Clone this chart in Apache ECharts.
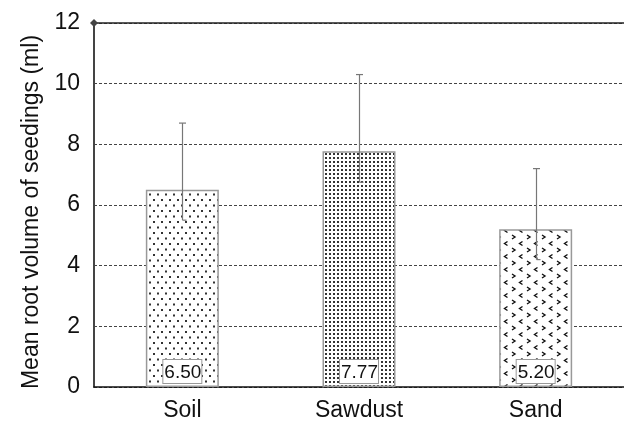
<!DOCTYPE html>
<html>
<head>
<meta charset="utf-8">
<script src="https://cdn.jsdelivr.net/npm/echarts@6/dist/echarts.min.js"></script>
<style>
  html, body { margin: 0; padding: 0; background: #fff; }
  #chart { width: 624px; height: 422px; }
</style>
</head>
<body>
<div id="chart"></div>
<script>
// Root volume per growing medium
const categories = ['Soil', 'Sawdust', 'Sand'];
const meanVolume = [6.50, 7.77, 5.20];
const errorHigh = [8.7, 10.3, 7.2];
const errorLow = [5.5, 6.75, 4.2];
const yTicks = [0, 2, 4, 6, 8, 10, 12];

// Fill textures for the three media
function tile(w, h, draw) {
  const c = document.createElement('canvas');
  c.width = w; c.height = h;
  const ctx = c.getContext('2d');
  ctx.fillStyle = '#fff';
  ctx.fillRect(0, 0, w, h);
  draw(ctx);
  return c;
}
const sparseDots = tile(8, 11, ctx => {
  ctx.fillStyle = '#333';
  ctx.fillRect(1, 1, 2, 2);
  ctx.fillRect(5, 6.5, 2, 2);
});
const denseDots = tile(4, 4, ctx => {
  ctx.fillStyle = '#333';
  ctx.fillRect(1, 1, 2, 2);
});
const chevrons = tile(15, 13, ctx => {
  ctx.strokeStyle = '#111';
  ctx.lineWidth = 1.4;
  ctx.beginPath();
  // '>'
  ctx.moveTo(2, 1); ctx.lineTo(5, 3); ctx.lineTo(2, 5);
  // '<'
  ctx.moveTo(12.5, 7.5); ctx.lineTo(9.5, 9.5); ctx.lineTo(12.5, 11.5);
  ctx.stroke();
});
const fills = [sparseDots, denseDots, chevrons];

const chart = echarts.init(document.getElementById('chart'), null, { renderer: 'canvas' });

chart.setOption({
  animation: false,
  textStyle: { fontFamily: 'Liberation Sans, Arial, sans-serif' },
  grid: { left: 94, top: 23, width: 537, height: 364 },
  xAxis: [{
    type: 'category',
    data: categories,
    axisLine: { lineStyle: { color: '#111', width: 1.5 } },
    axisTick: { show: false },
    axisLabel: { fontSize: 23, color: '#111', margin: 12 }
  }, {
    type: 'category',
    position: 'top',
    data: categories,
    axisLine: { show: true, lineStyle: { color: '#222', width: 1.5 } },
    axisTick: { show: false },
    axisLabel: { show: false }
  }],
  yAxis: {
    type: 'value',
    min: yTicks[0],
    max: yTicks[yTicks.length - 1],
    interval: 2,
    name: 'Mean root volume of seedings (ml)',
    nameLocation: 'middle',
    nameGap: 50,
    nameTextStyle: { fontSize: 23, color: '#111', padding: [0, 14, 0, 0] },
    axisLine: {
      show: true,
      symbol: ['none', 'diamond'],
      symbolSize: [8, 8],
      lineStyle: { color: '#444', width: 2 }
    },
    axisTick: { show: false },
    axisLabel: { fontSize: 23, color: '#111', margin: 14 },
    splitLine: { lineStyle: { color: '#444', type: [3, 2], width: 1 } }
  },
  series: [{
    type: 'bar',
    barWidth: 73,
    data: meanVolume.map((v, i) => ({
      value: v,
      itemStyle: { color: { image: fills[i], repeat: 'repeat' } }
    })),
    itemStyle: { borderColor: '#999', borderWidth: 1.5 },
    label: {
      show: true,
      position: 'insideBottom',
      distance: 4,
      formatter: p => p.value.toFixed(2),
      fontSize: 19,
      color: '#111',
      backgroundColor: '#fff',
      borderColor: '#999',
      borderWidth: 1,
      padding: [3, 0, 1, 1]
    },
    z: 2
  }, {
    type: 'custom',
    data: categories.map((c, i) => [i, errorLow[i], errorHigh[i]]),
    renderItem: (params, api) => {
      const hi = api.coord([api.value(0), api.value(2)]);
      const lo = api.coord([api.value(0), api.value(1)]);
      const x = Math.round(hi[0]) + 0.5;
      const style = { stroke: '#777', lineWidth: 1.2 };
      return {
        type: 'group',
        children: [
          { type: 'line', shape: { x1: x, y1: hi[1], x2: x, y2: lo[1] }, style },
          { type: 'line', shape: { x1: x - 3.5, y1: hi[1], x2: x + 3.5, y2: hi[1] }, style },
          { type: 'line', shape: { x1: x, y1: lo[1], x2: x + 4, y2: lo[1] }, style }
        ]
      };
    },
    z: 3
  }]
});
</script>
</body>
</html>
